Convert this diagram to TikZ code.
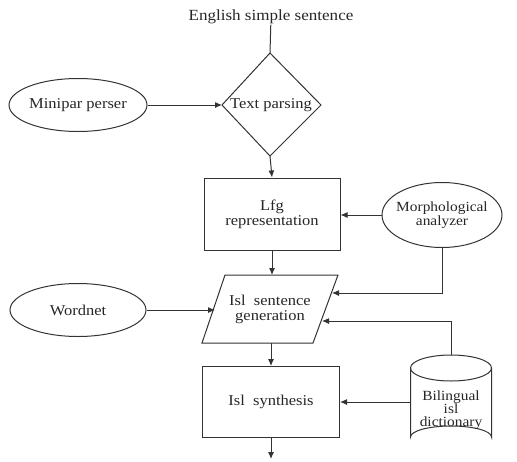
\documentclass[tikz,border=0pt]{standalone}
\usepackage{fontspec}
\setmainfont[FakeStretch=1.1]{Liberation Serif}
\usetikzlibrary{shapes.geometric,arrows.meta}
\begin{document}
\begin{tikzpicture}[x=1pt,y=-1pt,
  line width=1pt,
  every node/.style={font=\fontsize{15}{16}\selectfont, text=black!85, align=center},
  edge/.style={draw=black!80},
  arr/.style={edge,-{Latex[length=7pt,width=6pt]}},
  oval/.style={ellipse, draw=black!80, inner sep=0pt, minimum width=136pt, minimum height=53pt},
  box/.style={rectangle, draw=black!80, inner sep=0pt},
  label/.style={inner sep=0pt}]
\useasboundingbox (0,0) rectangle (517,461);

% input text
\node[label, font=\fontsize{15.5}{16}\selectfont] (src) at (271,17) {English simple sentence};

% decision diamond
\coordinate (dt) at (270,53);
\coordinate (dr) at (321,105);
\coordinate (db) at (270,156);
\coordinate (dl) at (222,105);
\draw[edge] (dt) -- (dr) -- (db) -- (dl) -- cycle;
\node[label] (parse) at (271,105) {Text parsing};

% side inputs
\node[oval, inner xsep=-8pt, inner ysep=0pt, minimum width=120pt, minimum height=65pt,
      font=\fontsize{14}{15}\selectfont] (morph) at (442,215) {Morphological\\[-1pt]analyzer};
\node[oval] (minipar) at (78,105) {Minipar perser};
\node[oval] (wordnet) at (78,310) {Wordnet};

% process boxes
\node[box, minimum width=136pt, minimum height=72pt] (lfg) at (272,214) {Lfg\\[-1pt]representation};
\node[box, minimum width=137pt, minimum height=71pt] (synth) at (271,402) {Isl\ \ synthesis};

% parallelogram
\coordinate (pa) at (225,275);
\coordinate (pb) at (338,275);
\coordinate (pc) at (313,343);
\coordinate (pd) at (202,343);
\draw[edge] (pa) -- (pb) -- (pc) -- (pd) -- cycle;
\node[label] (gen) at (270,309) {Isl\ \ sentence\\[-1pt]generation};
\coordinate (pin1) at (332,293);
\coordinate (pin2) at (322,321);
\coordinate (pinw) at (215,310);

% dictionary cylinder
\coordinate (cyt) at (451,355);
\draw[edge] (410.5,368) arc[start angle=180, end angle=-180, x radius=40.5, y radius=13];
\draw[edge] (410.5,368) -- (410.5,437) arc[start angle=180, end angle=360, x radius=40.5, y radius=11] -- (491.5,368);
\node[label, font=\fontsize{14}{14}\selectfont] (dict) at (451,410) {Bilingual\\[-1pt]isl\\[-1pt]dictionary};
\coordinate (cyl) at (410.5,402);

% connectors
\draw[edge] (src) -- (dt);
\draw[arr] (minipar) -- (dl);
\draw[arr] (db) -- (lfg.north);
\draw[arr] (morph.west) -- (lfg.east |- morph.west);
\draw[arr] (lfg.south) -- (lfg.south |- pa);
\draw[arr] (morph.south) |- (pin1);
\draw[arr] (wordnet) -- (pinw);
\draw[arr] (cyt) |- (pin2);
\draw[arr] (synth.north |- pd) -- (synth.north);
\draw[arr] (cyl) -- (synth.east |- cyl);
\coordinate (out) at (271,459);
\draw[arr] (synth.south) -- (out);
\end{tikzpicture}
\end{document}
